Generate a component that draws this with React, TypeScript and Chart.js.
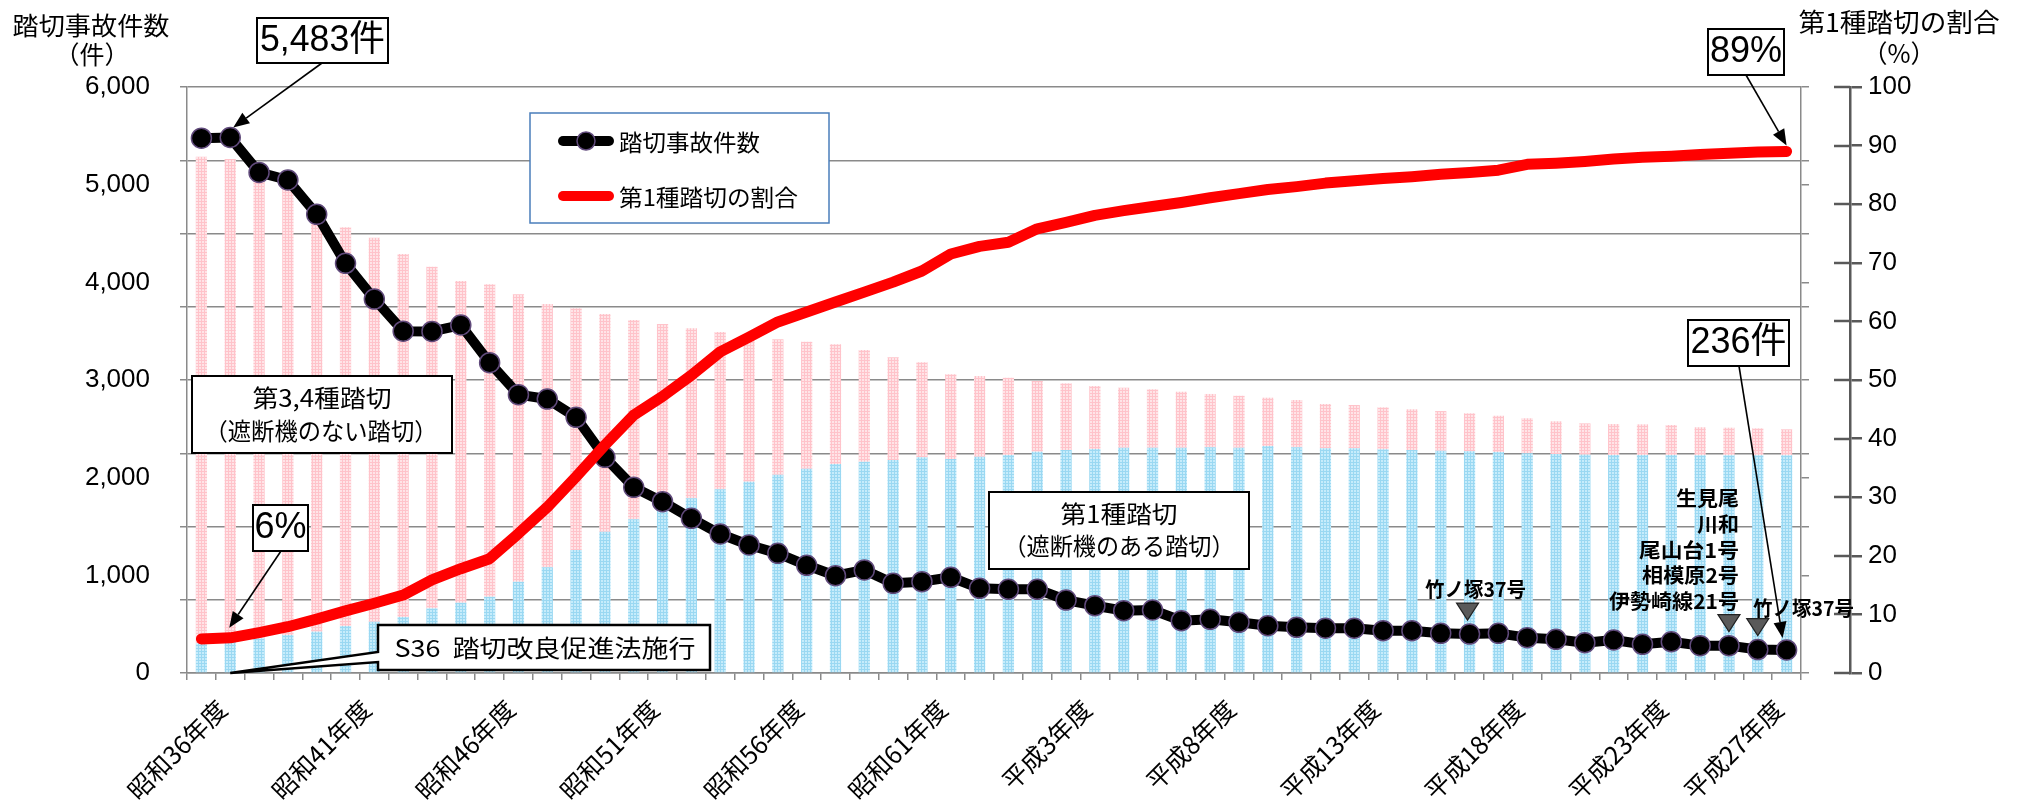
import React, { useEffect, useRef } from "react";
import { Chart, registerables } from "chart.js";

Chart.register(...registerables);

// Fiscal years, 昭和35年度 .. 平成27年度
const fiscalYears = [
  "昭和35年度", "昭和36年度", "昭和37年度", "昭和38年度", "昭和39年度", "昭和40年度",
  "昭和41年度", "昭和42年度", "昭和43年度", "昭和44年度", "昭和45年度", "昭和46年度",
  "昭和47年度", "昭和48年度", "昭和49年度", "昭和50年度", "昭和51年度", "昭和52年度",
  "昭和53年度", "昭和54年度", "昭和55年度", "昭和56年度", "昭和57年度", "昭和58年度",
  "昭和59年度", "昭和60年度", "昭和61年度", "昭和62年度", "昭和63年度", "平成元年度",
  "平成2年度", "平成3年度", "平成4年度", "平成5年度", "平成6年度", "平成7年度",
  "平成8年度", "平成9年度", "平成10年度", "平成11年度", "平成12年度", "平成13年度",
  "平成14年度", "平成15年度", "平成16年度", "平成17年度", "平成18年度", "平成19年度",
  "平成20年度", "平成21年度", "平成22年度", "平成23年度", "平成24年度", "平成25年度",
  "平成26年度", "平成27年度",
];

// Year labels printed under the axis
const shownYears = [
  "昭和36年度", "昭和41年度", "昭和46年度", "昭和51年度", "昭和56年度", "昭和61年度",
  "平成3年度", "平成8年度", "平成13年度", "平成18年度", "平成23年度", "平成27年度",
];

// 踏切事故件数 (件)
const accidents = [
  5476, 5483, 5125, 5048, 4696, 4195, 3829, 3500, 3497, 3563,
  3177, 2850, 2805, 2618, 2208, 1901, 1754, 1584, 1423, 1311,
  1225, 1103, 996, 1055, 918, 935, 980, 867, 857, 857,
  747, 689, 638, 645, 535, 550, 519, 484, 468, 458,
  458, 433, 433, 406, 399, 406, 362, 345, 310, 338,
  294, 320, 280, 280, 240, 236,
];

// 第1種踏切 (bar, lower segment)
const type1Crossings = [
  304, 338, 355, 389, 423, 481, 525, 573, 662, 720,
  781, 935, 1082, 1259, 1447, 1574, 1669, 1789, 1881, 1959,
  2030, 2092, 2140, 2163, 2181, 2208, 2191, 2215, 2232, 2266,
  2283, 2293, 2307, 2307, 2307, 2311, 2307, 2324, 2311, 2301,
  2301, 2290, 2283, 2276, 2270, 2263, 2249, 2242, 2235, 2232,
  2232, 2232, 2229, 2229, 2229, 2229,
];

// 第3,4種踏切 (bar, upper segment)
const type34Crossings = [
  4982, 4925, 4713, 4566, 4205, 4082, 3932, 3717, 3498, 3293,
  3199, 2942, 2696, 2475, 2229, 2040, 1904, 1740, 1610, 1502,
  1387, 1300, 1225, 1144, 1051, 973, 867, 826, 791, 724,
  683, 645, 614, 598, 573, 546, 532, 495, 484, 453,
  443, 430, 417, 406, 389, 371, 359, 335, 321, 317,
  314, 307, 287, 283, 276, 266,
];

// 第1種踏切の割合 (%)
const type1Share = [
  5.8, 6.0, 6.9, 7.9, 9.2, 10.6, 11.9, 13.3, 15.9, 17.8,
  19.5, 23.8, 28.3, 33.5, 38.9, 44.0, 47.2, 50.8, 54.8, 57.3,
  59.9, 61.6, 63.3, 65.0, 66.7, 68.6, 71.5, 72.8, 73.5, 75.8,
  76.9, 78.1, 78.9, 79.6, 80.3, 81.1, 81.8, 82.5, 83.0, 83.6,
  84.0, 84.4, 84.7, 85.1, 85.4, 85.8, 86.8, 87.0, 87.3, 87.7,
  88.0, 88.2, 88.5, 88.7, 88.9, 89.0,
];

// Left-axis gridline step and label step
const gridStep = 750;
const labelStep = 1000;
const countMax = 6000;

const FONT_JP = "'Noto Sans CJK JP', 'Noto Sans', sans-serif";
const FONT_NUM = "'Liberation Sans', Arial, 'Noto Sans CJK JP', sans-serif";
const GRID = "#8a8a8a";
const AXIS_DARK = "#595959";

function countTicks() {
  const vals = new Set<number>();
  for (let v = 0; v <= countMax; v += gridStep) vals.add(v);
  for (let v = 0; v <= countMax; v += labelStep) vals.add(v);
  return Array.from(vals).sort((a, b) => a - b).map((value) => ({ value }));
}

function makePattern(base: string, line: string) {
  const c = document.createElement("canvas");
  c.width = 3;
  c.height = 3;
  const g = c.getContext("2d")!;
  g.fillStyle = base;
  g.fillRect(0, 0, 3, 3);
  g.fillStyle = line;
  g.fillRect(0, 0, 3, 1);
  g.fillRect(0, 0, 1, 3);
  return g.createPattern(c, "repeat")!;
}

type TextOpts = { align?: CanvasTextAlign; width?: number; bold?: boolean; family?: string };

function drawText(ctx: CanvasRenderingContext2D, text: string, x: number, y: number, size: number, o: TextOpts = {}) {
  ctx.save();
  ctx.font = `${o.bold ? "bold " : ""}${size}px ${o.family || FONT_JP}`;
  ctx.textBaseline = "middle";
  ctx.textAlign = o.align || "center";
  ctx.fillStyle = "#000";
  const natural = ctx.measureText(text).width;
  const sx = o.width ? o.width / natural : 1;
  ctx.translate(x, y);
  ctx.scale(sx, 1);
  ctx.fillText(text, 0, 0);
  ctx.restore();
}

function drawBox(ctx: CanvasRenderingContext2D, x: number, y: number, w: number, h: number, lw = 2) {
  ctx.save();
  ctx.fillStyle = "#fff";
  ctx.fillRect(x, y, w, h);
  ctx.strokeStyle = "#000";
  ctx.lineWidth = lw;
  ctx.strokeRect(x, y, w, h);
  ctx.restore();
}

function drawArrow(ctx: CanvasRenderingContext2D, x1: number, y1: number, x2: number, y2: number) {
  const ang = Math.atan2(y2 - y1, x2 - x1);
  const len = 16;
  const half = 6.5;
  const bx = x2 - len * Math.cos(ang);
  const by = y2 - len * Math.sin(ang);
  ctx.save();
  ctx.strokeStyle = "#000";
  ctx.fillStyle = "#000";
  ctx.lineWidth = 1.6;
  ctx.beginPath();
  ctx.moveTo(x1, y1);
  ctx.lineTo(bx, by);
  ctx.stroke();
  ctx.beginPath();
  ctx.moveTo(x2, y2);
  ctx.lineTo(bx + half * Math.sin(ang), by - half * Math.cos(ang));
  ctx.lineTo(bx - half * Math.sin(ang), by + half * Math.cos(ang));
  ctx.closePath();
  ctx.fill();
  ctx.restore();
}

function drawMarkerTriangle(ctx: CanvasRenderingContext2D, cx: number, bottom: number) {
  ctx.save();
  ctx.fillStyle = "#5a5a5a";
  ctx.strokeStyle = "#222";
  ctx.lineWidth = 1.2;
  ctx.beginPath();
  ctx.moveTo(cx - 11, bottom - 17);
  ctx.lineTo(cx + 11, bottom - 17);
  ctx.lineTo(cx, bottom);
  ctx.closePath();
  ctx.fill();
  ctx.stroke();
  ctx.restore();
}

const notesPlugin = {
  id: "crossingNotes",
  afterDraw(chart: any) {
    const ctx: CanvasRenderingContext2D = chart.ctx;
    const sx = chart.scales.x;
    const sCount = chart.scales.yGap;
    const sShare = chart.scales.y2;
    const area = chart.chartArea;
    const X = (i: number) => sx.getPixelForValue(i);
    const Y = (v: number) => sCount.getPixelForValue(v);
    const P = (v: number) => sShare.getPixelForValue(v);
    const last = fiscalYears.length - 1;

    // right-axis tick marks cross the axis line
    ctx.save();
    ctx.strokeStyle = AXIS_DARK;
    ctx.lineWidth = 2.5;
    sShare.ticks.forEach((t: any) => {
      const y = Math.round(sShare.getPixelForValue(t.value));
      ctx.beginPath();
      ctx.moveTo(sShare.left - 16, y);
      ctx.lineTo(sShare.left, y);
      ctx.stroke();
    });
    ctx.restore();

    // axis titles
    drawText(ctx, "踏切事故件数", 91, 25, 25, { width: 157 });
    drawText(ctx, "（件）", 92, 54, 25);
    drawText(ctx, "第1種踏切の割合", 1899, 22, 26, { width: 201 });
    drawText(ctx, "（%）", 1899, 53, 25);

    // legend
    ctx.save();
    ctx.fillStyle = "#fff";
    ctx.fillRect(530, 113, 299, 110);
    ctx.strokeStyle = "#4a7ebb";
    ctx.lineWidth = 1.5;
    ctx.strokeRect(530, 113, 299, 110);
    ctx.lineCap = "round";
    ctx.lineWidth = 10;
    ctx.strokeStyle = "#000";
    ctx.beginPath();
    ctx.moveTo(563, 141);
    ctx.lineTo(609, 141);
    ctx.stroke();
    ctx.fillStyle = "#000";
    ctx.strokeStyle = "#604a7b";
    ctx.lineWidth = 1.5;
    ctx.beginPath();
    ctx.arc(586, 141, 9, 0, Math.PI * 2);
    ctx.fill();
    ctx.stroke();
    ctx.strokeStyle = "#ff0000";
    ctx.lineWidth = 10;
    ctx.beginPath();
    ctx.moveTo(563, 196);
    ctx.lineTo(609, 196);
    ctx.stroke();
    ctx.restore();
    drawText(ctx, "踏切事故件数", 619, 142, 23, { align: "left", width: 141 });
    drawText(ctx, "第1種踏切の割合", 619, 197, 23, { align: "left", width: 179 });

    // crossing-type captions
    drawBox(ctx, 192, 376, 260, 77);
    drawText(ctx, "第3,4種踏切", 322, 398, 24, { width: 139 });
    drawText(ctx, "（遮断機のない踏切）", 321, 431, 24, { width: 233 });
    drawBox(ctx, 989, 492, 260, 77);
    drawText(ctx, "第1種踏切", 1119, 514, 24, { width: 117 });
    drawText(ctx, "（遮断機のある踏切）", 1119, 546, 24, { width: 231 });

    // S36 callout pointing at the 昭和36年度 baseline
    ctx.save();
    ctx.fillStyle = "#fff";
    ctx.strokeStyle = "#000";
    ctx.lineWidth = 2.5;
    ctx.lineJoin = "miter";
    ctx.beginPath();
    ctx.moveTo(378, 625);
    ctx.lineTo(710, 625);
    ctx.lineTo(710, 670);
    ctx.lineTo(378, 670);
    ctx.lineTo(378, 662);
    ctx.lineTo(X(1), area.bottom);
    ctx.lineTo(378, 652);
    ctx.closePath();
    ctx.fill();
    ctx.stroke();
    ctx.restore();
    drawText(ctx, "S36  踏切改良促進法施行", 545, 648, 24, { width: 301 });

    // value call-outs
    drawBox(ctx, 257, 18, 131, 45);
    drawText(ctx, "5,483件", 322.5, 41, 36, { width: 125, family: FONT_NUM });
    drawArrow(ctx, 322, 63, X(1) + 3, Y(accidents[1]) - 10);

    drawBox(ctx, 253, 505, 55, 46);
    drawText(ctx, "6%", 280.5, 528.5, 36, { width: 52, family: FONT_NUM });
    drawArrow(ctx, 281, 551, X(1) - 1, P(type1Share[1]) - 10);

    drawBox(ctx, 1708, 29, 76, 46);
    drawText(ctx, "89%", 1746, 52.5, 36, { width: 72, family: FONT_NUM });
    drawArrow(ctx, 1746, 75, X(last), P(type1Share[last]) - 6);

    drawBox(ctx, 1688, 320, 101, 46);
    drawText(ctx, "236件", 1738.5, 343.5, 36, { width: 96, family: FONT_NUM });
    drawArrow(ctx, 1739, 366, X(last) - 4, Y(accidents[last]) - 12);

    // notable accidents
    const tIdx = fiscalYears.indexOf("平成16年度");
    drawText(ctx, "竹ノ塚37号", 1425, 589, 20, { align: "left", bold: true, width: 101 });
    drawMarkerTriangle(ctx, X(tIdx) - 2, Y(accidents[tIdx]) - 14);

    const i25 = fiscalYears.indexOf("平成25年度");
    const i26 = fiscalYears.indexOf("平成26年度");
    const stack: [string, number, number][] = [
      ["生見尾", 498, 63],
      ["川和", 524, 42],
      ["尾山台1号", 550, 100],
      ["相模原2号", 575, 97],
      ["伊勢崎線21号", 601, 130],
    ];
    stack.forEach(([t, y, w]) => drawText(ctx, t, 1739, y, 20, { align: "right", bold: true, width: w }));
    drawMarkerTriangle(ctx, X(i25), Y(accidents[i25]) - 14);
    drawMarkerTriangle(ctx, X(i26), Y(accidents[i26]) - 14);
    drawText(ctx, "竹ノ塚37号", 1753, 608, 20, { align: "left", bold: true, width: 101 });
  },
};

export default function App() {
  const ref = useRef<HTMLCanvasElement>(null);

  useEffect(() => {
    document.body.style.margin = "0";
    const canvas = ref.current!;
    const pink = makePattern("#ffe4e7", "#ffc3ca");
    const blue = makePattern("#c6ecfb", "#9ad8f2");

    const chart = new Chart(canvas, {
      type: "bar",
      data: {
        labels: fiscalYears,
        datasets: [
          {
            type: "bar",
            label: "第1種踏切",
            data: type1Crossings,
            backgroundColor: blue as any,
            yAxisID: "y",
            stack: "crossings",
            order: 3,
            barPercentage: 0.39,
            categoryPercentage: 1,
          },
          {
            type: "bar",
            label: "第3,4種踏切",
            data: type34Crossings,
            backgroundColor: pink as any,
            yAxisID: "y",
            stack: "crossings",
            order: 3,
            barPercentage: 0.39,
            categoryPercentage: 1,
          },
          {
            type: "line",
            label: "踏切事故件数",
            data: accidents,
            yAxisID: "yGap",
            borderColor: "#000",
            borderWidth: 10,
            tension: 0,
            pointRadius: 10,
            pointBackgroundColor: "#000",
            pointBorderColor: "#604a7b",
            pointBorderWidth: 1.5,
            borderJoinStyle: "round",
            order: 2,
          } as any,
          {
            type: "line",
            label: "第1種踏切の割合",
            data: type1Share,
            yAxisID: "y2",
            borderColor: "#ff0000",
            borderWidth: 11,
            tension: 0,
            pointRadius: 0,
            borderCapStyle: "round",
            borderJoinStyle: "round",
            order: 1,
          } as any,
        ],
      },
      options: {
        responsive: false,
        animation: false,
        devicePixelRatio: 1,
        layout: { padding: { top: 87, left: 0, right: 0, bottom: 0 } },
        plugins: {
          legend: { display: false },
          tooltip: { enabled: false },
        },
        scales: {
          x: {
            stacked: true,
            offset: true,
            grid: {
              offset: true,
              drawOnChartArea: false,
              tickLength: 7,
              color: GRID,
              lineWidth: 1.5,
            },
            border: { display: true, color: GRID, width: 1.5 },
            ticks: {
              autoSkip: false,
              minRotation: 45,
              maxRotation: 45,
              padding: 14,
              labelOffset: -8,
              color: "#000",
              font: { family: FONT_JP, size: 25 },
              callback: (_v: any, i: number) => (shownYears.includes(fiscalYears[i]) ? fiscalYears[i] : ""),
            },
            afterFit: (s: any) => {
              s.height = 132;
            },
          },
          y: {
            type: "linear",
            position: "left",
            stacked: true,
            min: 0,
            max: countMax,
            afterBuildTicks: (s: any) => {
              s.ticks = countTicks();
            },
            grid: {
              color: (c: any) => (c.tick && c.tick.value % gridStep === 0 ? GRID : "rgba(0,0,0,0)"),
              tickColor: (c: any) => (c.tick && c.tick.value % gridStep === 0 ? GRID : "rgba(0,0,0,0)"),
              lineWidth: 1.5,
              tickLength: 7,
            },
            border: { display: true, color: GRID, width: 1.5 },
            ticks: {
              padding: 30,
              color: "#000",
              font: { family: FONT_NUM, size: 26 },
              callback: (v: any) => (v % labelStep === 0 ? Number(v).toLocaleString("en-US") : ""),
            },
            afterFit: (s: any) => {
              s.width = 187;
            },
          },
          yGap: {
            type: "linear",
            position: "right",
            weight: 0,
            min: 0,
            max: countMax,
            afterBuildTicks: (s: any) => {
              s.ticks = countTicks();
            },
            grid: {
              drawOnChartArea: false,
              tickLength: 8,
              color: GRID,
              lineWidth: 1.5,
            },
            border: { display: true, color: GRID, width: 1.5 },
            ticks: { callback: () => "" },
            afterFit: (s: any) => {
              s.width = 49;
            },
          },
          y2: {
            type: "linear",
            position: "right",
            weight: 1,
            min: 0,
            max: 100,
            grid: {
              drawOnChartArea: false,
              tickLength: 12,
              color: AXIS_DARK,
              lineWidth: 2.5,
            },
            border: { display: true, color: AXIS_DARK, width: 2.5 },
            ticks: {
              stepSize: 10,
              padding: 6,
              color: "#000",
              font: { family: FONT_NUM, size: 26 },
            },
            afterFit: (s: any) => {
              s.width = 170;
            },
          },
        } as any,
      },
      plugins: [notesPlugin],
    });

    return () => chart.destroy();
  }, []);

  return (
    <div style={{ width: 2020, height: 805 }}>
      <canvas ref={ref} width={2020} height={805} style={{ display: "block" }} />
    </div>
  );
}
